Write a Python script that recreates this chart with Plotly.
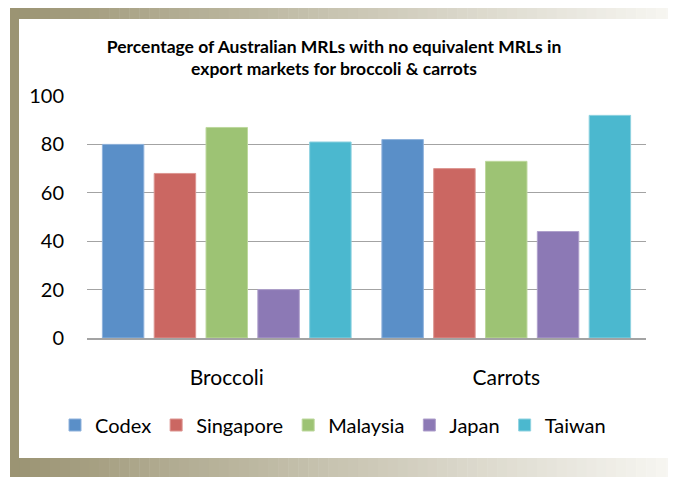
import plotly.graph_objects as go

categories = ["Broccoli", "Carrots"]
series_names = ["Codex", "Singapore", "Malaysia", "Japan", "Taiwan"]
codex = [80, 82]
singapore = [68, 70]
malaysia = [87, 73]
japan = [20, 44]
taiwan = [81, 92]
y_ticks = [0, 20, 40, 60, 80, 100]

values = [codex, singapore, malaysia, japan, taiwan]
colors = ["#5A8FC8", "#CB6762", "#9DC374", "#8C79B5", "#4BB8CF"]
edges = ["#8FB2DC", "#DC9590", "#BDD89D", "#AFA0CC", "#8FD2E0"]

OFF = 8  # page body margin
W, H = 676 - OFF, 477 - OFF
ML, MR, MT, MB = 87 - OFF, 30, 96 - OFF, 139
PW = W - ML - MR
PH = H - MT - MB

def px(x):
    return (x - OFF - ML) / PW

def py(y):
    return (H - MB - (y - OFF)) / PH

fig = go.Figure()
for name, vals, c, e in zip(series_names, values, colors, edges):
    fig.add_trace(go.Bar(x=categories, y=vals, name=name,
                         marker=dict(color=c, line=dict(color=e, width=1))))

def lerp(a, b, t):
    return tuple(int(round(a[i] + (b[i] - a[i]) * t)) for i in range(3))

c0 = (155, 148, 115)
c1 = (247, 246, 242)
shapes = []
shapes.append(dict(type="rect", xref="paper", yref="paper", layer="below",
                   x0=px(10), x1=px(19), y0=py(478), y1=py(8),
                   fillcolor="rgb(%d,%d,%d)" % c0, line=dict(width=0)))
n = 67
for i in range(n):
    xa = 10 + (676 - 10) * i / n
    xb = 10 + (676 - 10) * (i + 1) / n + 0.5
    col = "rgb(%d,%d,%d)" % lerp(c0, c1, i / (n - 1))
    for (ya, yb) in [(8, 19), (458, 478)]:
        shapes.append(dict(type="rect", xref="paper", yref="paper", layer="below",
                           x0=px(xa), x1=px(xb), y0=py(yb), y1=py(ya),
                           fillcolor=col, line=dict(width=0)))

fig.update_layout(
    width=W, height=H,
    margin=dict(l=ML, r=MR, t=MT, b=MB, pad=0),
    paper_bgcolor="white", plot_bgcolor="white",
    barmode="group", bargap=0.073, bargroupgap=0.2,
    font=dict(family="Lato, sans-serif", size=20, color="black"),
    title=dict(text="Percentage of Australian MRLs with no equivalent MRLs in<br>export markets for broccoli & carrots",
               x=(334 - OFF) / W, xanchor="center", y=1 - (52.5 - OFF) / H, yanchor="middle",
               font=dict(family="Lato, sans-serif", size=17.5, color="black", weight="bold")),
    legend=dict(orientation="h", x=px(333), xanchor="center", y=py(425), yanchor="middle",
                font=dict(size=20), itemclick=False),
    shapes=shapes,
    showlegend=True,
)
fig.update_yaxes(range=[0, 100], tickvals=y_ticks, showgrid=True, gridcolor="#A3A3A3", gridwidth=1.3,
                 zeroline=False, showline=False, ticks="", ticklabelstandoff=22,
                 tickfont=dict(size=20))
fig.update_xaxes(showline=True, linecolor="#A3A3A3", linewidth=1.5, ticks="",
                 ticklabelstandoff=20, tickfont=dict(size=21))

fig.write_html("out.html")
